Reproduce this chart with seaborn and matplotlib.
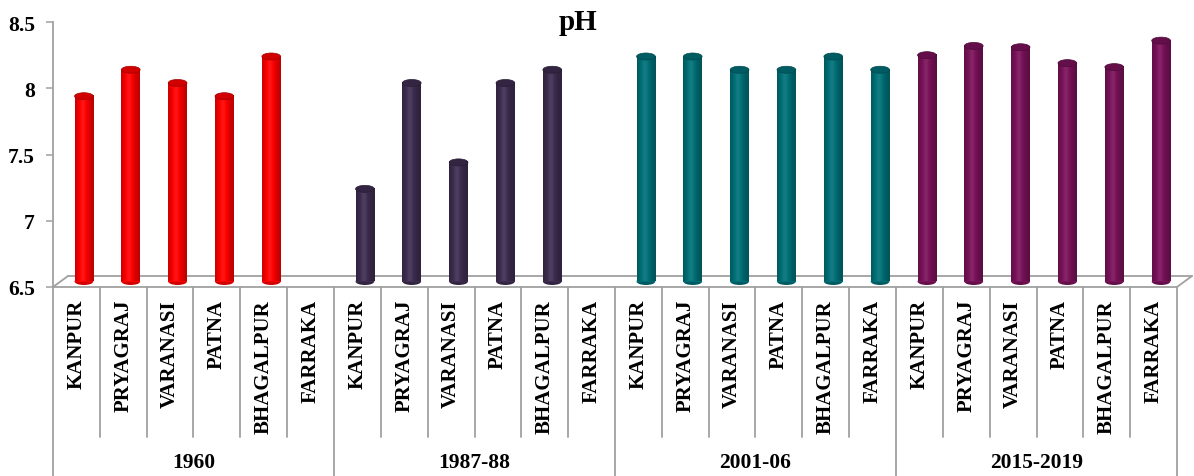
import numpy as np
import pandas as pd
import matplotlib
matplotlib.use("Agg")
import matplotlib.pyplot as plt
import matplotlib.transforms as mtransforms
from matplotlib.patches import Ellipse
import seaborn as sns

# ---- data -------------------------------------------------------------
stations = ["KANPUR", "PRYAGRAJ", "VARANASI", "PATNA", "BHAGALPUR", "FARRAKA"]
periods = ["1960", "1987-88", "2001-06", "2015-2019"]
ph_1960 = [7.9, 8.1, 8.0, 7.9, 8.2, np.nan]
ph_1987 = [7.2, 8.0, 7.4, 8.0, 8.1, np.nan]
ph_2001 = [8.2, 8.2, 8.1, 8.1, 8.2, 8.1]
ph_2015 = [8.21, 8.28, 8.27, 8.15, 8.12, 8.32]
period_colors = ["#ff0000", "#3e2d50", "#007078", "#7a125a"]
y_ticks = [6.5, 7, 7.5, 8, 8.5]
y_ticklabels = ["6.5", "7", "7.5", "8", "8.5"]

rows = []
for period, vals in zip(periods, [ph_1960, ph_1987, ph_2001, ph_2015]):
    for st, v in zip(stations, vals):
        rows.append({"slot": f"{period}|{st}", "station": st, "period": period, "pH": v})
df = pd.DataFrame(rows)
slots = list(df["slot"])

# ---- style --------------------------------------------------------------
sns.set_theme(style="white")
plt.rcParams["font.family"] = ["Liberation Serif", "DejaVu Serif"]
plt.rcParams["font.weight"] = "bold"
plt.rcParams["text.color"] = "black"
plt.rcParams["ytick.labelcolor"] = "black"
LINE = "#a0a0a0"
FS = 15.5
FS_CAT = 15

W, H, DPI = 1194, 477, 100
fig = plt.figure(figsize=(W / DPI, H / DPI), dpi=DPI)
AX_L, AX_R, AX_T, AX_B = 53, 1177, 23.3, 288
ax = fig.add_axes([AX_L / W, 1 - AX_B / H, (AX_R - AX_L) / W, (AX_B - AX_T) / H])

BASE, TOP = 6.5, 8.5
sns.barplot(
    data=df.dropna(), x="slot", y="pH", hue="period",
    order=slots, hue_order=periods,
    palette=dict(zip(periods, period_colors)),
    dodge=False, width=0.4, errorbar=None, legend=False,
    saturation=1, linewidth=0, ax=ax,
)

n = len(slots)
ax.set_xlim(-0.5, n - 0.5)
ax.set_ylim(BASE, TOP)

px_x = (AX_R - AX_L) / n          # pixels per category
px_y = (AX_B - AX_T) / (TOP - BASE)  # pixels per pH unit

# depth offsets for the pseudo-3D look (in data units)
bar_dx, bar_dy = 7.5 / px_x, 5.5 / px_y
floor_dx, floor_dy = 15 / px_x, 11 / px_y
cap_h = 7 / px_y


def shade(rgb, f):
    rgb = np.asarray(rgb, float)
    if f <= 1:
        return np.clip(rgb * f, 0, 1)
    return np.clip(rgb + (1 - rgb) * (f - 1), 0, 1)


t = np.linspace(0, 1, 80)
profile = 0.74 + 0.34 * np.exp(-((t - 0.42) / 0.32) ** 2)

for bar in list(ax.patches):
    top = bar.get_height()
    if not np.isfinite(top) or top <= BASE:
        continue
    rgb = np.array(bar.get_facecolor()[:3])
    x0, w = bar.get_x() + bar_dx, bar.get_width()
    y0, y1 = BASE + bar_dy, top + bar_dy
    bar.set_x(x0)
    bar.set_y(y0)
    bar.set_height(y1 - y0)
    bar.set_zorder(2)
    grad = np.array([shade(rgb, f) for f in profile])[None, :, :]
    ax.imshow(grad, extent=(x0, x0 + w, y0, y1), aspect="auto",
              interpolation="bilinear", zorder=2.05)
    ax.add_patch(Ellipse((x0 + w / 2, y0), w, cap_h, facecolor=shade(rgb, 0.82),
                         edgecolor="none", zorder=1.95))
    ax.add_patch(Ellipse((x0 + w / 2, y1), w, cap_h, facecolor=shade(rgb, 0.82),
                         edgecolor=shade(rgb, 0.65), linewidth=0.5, zorder=2.1))

ax.set_xlim(-0.5, n - 0.5)
ax.set_ylim(BASE, TOP)

# floor of the 3D plot
lx, rx = -0.5, n - 0.5
ax.plot([lx + floor_dx, rx + floor_dx], [BASE + floor_dy] * 2, color=LINE, lw=1.3,
        zorder=1, clip_on=False)
ax.plot([lx, lx + floor_dx], [BASE, BASE + floor_dy], color=LINE, lw=1.3, zorder=1,
        clip_on=False)
ax.plot([rx, rx + floor_dx], [BASE, BASE + floor_dy], color=LINE, lw=1.3, zorder=1,
        clip_on=False)

# axes and ticks
for side in ["top", "right"]:
    ax.spines[side].set_visible(False)
for side in ["left", "bottom"]:
    ax.spines[side].set_color(LINE)
    ax.spines[side].set_linewidth(1.3)
ax.set_yticks(y_ticks)
ax.set_yticklabels(y_ticklabels)
ax.tick_params(axis="y", left=True, length=5, width=1.1, color=LINE, pad=8,
               labelsize=FS, labelcolor="black")
ax.tick_params(axis="x", bottom=False, labelbottom=False)
ax.set_xlabel("")
ax.set_ylabel("")

# two-level category axis
blend = mtransforms.blended_transform_factory(ax.transData, ax.transAxes)
ax_h = AX_B - AX_T
short_end = -(438 - AX_B) / ax_h
long_end = -(H + 2 - AX_B) / ax_h
for i in range(n + 1):
    x = i - 0.5
    end = long_end if i % len(stations) == 0 else short_end
    ax.plot([x, x], [0, end], transform=blend, color=LINE, lw=1.3, clip_on=False)

label_y = -(300 - AX_B) / ax_h
for i, slot in enumerate(slots):
    ax.text(i, label_y, slot.split("|")[1], transform=blend, rotation=90,
            ha="center", va="top", fontsize=FS_CAT, fontweight="bold", color="black")

period_y = -(463 - AX_B) / ax_h
for k, period in enumerate(periods):
    ax.text(k * len(stations) + (len(stations) - 1) / 2, period_y, period,
            transform=blend, ha="center", va="center", fontsize=FS,
            fontweight="bold", color="black")

fig.text(578 / W, 1 - 22 / H, "pH", ha="center", va="center", fontsize=21,
         fontweight="bold", color="black")

fig.savefig("out.png", dpi=DPI)
